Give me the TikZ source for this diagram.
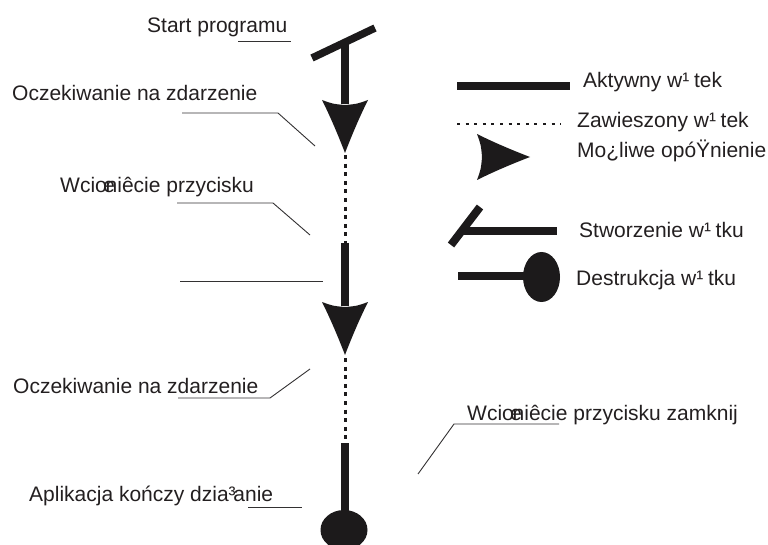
\documentclass[tikz,border=0pt]{standalone}
\usepackage{fontspec}
\setmainfont{Liberation Sans}
\definecolor{ink}{RGB}{28,26,27}
\definecolor{txt}{RGB}{35,31,32}
% glyphs set in the width of the letter they stand in for
\newcommand\glA{\makebox[0.556em][l]{¹}}
\newcommand\glL{\makebox[0.222em][l]{³}}
\newcommand\glS{\makebox[0.5em][l]{œ}}
\tikzset{
  delayhead/.pic={
    \fill[ink] (-23,0) .. controls (-12,4) .. (0,5) .. controls (12,4) .. (23,0)
      .. controls (14.5,17) and (6.5,36) .. (0,53)
      .. controls (-6.5,36) and (-14.5,17) .. (-23,0) -- cycle;
  }
}
\begin{document}
\begin{tikzpicture}[x=1pt,y=-1pt,
  lbl/.style={anchor=base west,inner sep=0pt,text=txt,font=\fontsize{21}{25}\selectfont},
  active/.style={draw=ink,line width=8.5pt},
  suspended/.style={draw=ink,line width=3pt,dash pattern=on 4pt off 4.6pt},
  leader/.style={draw=ink!90,line width=0.9pt},
  endblob/.style={fill=ink}]
\useasboundingbox (0,0) rectangle (768,545);

% ---- thread lifeline ----
\coordinate (barA) at (312,58);
\coordinate (barB) at (375,28);
\coordinate (l0) at (345,42);
\coordinate (h1) at (345,100);
\coordinate (l1) at (345,104);
\coordinate (t1) at (345,155);
\coordinate (l2) at (345,243);
\coordinate (h2) at (345,302);
\coordinate (l3) at (345,306);
\coordinate (t2) at (345,358);
\coordinate (l4) at (345,443);
\coordinate (l5) at (345,515);
\coordinate (blob) at (344,530);

\draw[active,line width=7.5pt] (barA) -- (barB);
\draw[active] (l0) -- (l1);
\pic at (h1) {delayhead};
\draw[suspended] (t1) -- (l2);
\draw[active] (l2) -- (l3);
\pic at (h2) {delayhead};
\draw[suspended] (t2) -- (l4);
\draw[active] (l4) -- (l5);
\fill[endblob] (blob) ellipse [x radius=23.5, y radius=20];

% ---- labels and leaders ----
\node[lbl] (start) at (147,33) {Start programu};
\coordinate (sA) at (238,41); \coordinate (sB) at (291,41);
\draw[leader] (sA) -- (sB);

\node[lbl] (wait1) at (12,101) {Oczekiwanie na zdarzenie};
\coordinate (w1A) at (182,113); \coordinate (w1B) at (278,113); \coordinate (w1C) at (315,146);
\draw[leader] (w1A) -- (w1B) -- (w1C);

\node[lbl] (press) at (60,193) {Wci\glS ni\^{e}cie przycisku};
\coordinate (pA) at (177,203); \coordinate (pB) at (273,203); \coordinate (pC) at (310,235);
\draw[leader] (pA) -- (pB) -- (pC);

\coordinate (eA) at (180,281); \coordinate (eB) at (323,281);
\draw[leader] (eA) -- (eB);

\node[lbl] (wait2) at (13,393) {Oczekiwanie na zdarzenie};
\coordinate (w2A) at (178,398); \coordinate (w2B) at (270,398); \coordinate (w2C) at (310,369);
\draw[leader] (w2A) -- (w2B) -- (w2C);

\node[lbl] (quit) at (29,501) {Aplikacja kończy dzia\glL anie};
\coordinate (qA) at (248,507); \coordinate (qB) at (302,507);
\draw[leader] (qA) -- (qB);

\node[lbl] (close) at (467,420) {Wci\glS ni\^{e}cie przycisku zamknij};
\coordinate (cA) at (559,424); \coordinate (cB) at (454,424); \coordinate (cC) at (418,474);
\draw[leader] (cA) -- (cB) -- (cC);

% ---- legend ----
\coordinate (k1A) at (457,86); \coordinate (k1B) at (570,86);
\draw[active,line width=8pt] (k1A) -- (k1B);
\node[lbl] (k1) at (583,88) {Aktywny w\glA tek};

\coordinate (k2A) at (457,124); \coordinate (k2B) at (561,124);
\draw[draw=ink,line width=2.3pt,dash pattern=on 3pt off 5.6pt] (k2A) -- (k2B);
\node[lbl] (k2) at (577,128) {Zawieszony w\glA tek};

\coordinate (k3) at (477,157);
\pic[rotate=90] at (k3) {delayhead};
\node[lbl] (k3t) at (577,158) {Mo¿liwe opóŸnienie};

\coordinate (k4A) at (451,245); \coordinate (k4B) at (480,207);
\coordinate (k4C) at (462,231); \coordinate (k4D) at (557,231);
\draw[active,line width=8pt] (k4A) -- (k4B);
\draw[active,line width=8pt] (k4C) -- (k4D);
\node[lbl] (k4) at (579,238) {Stworzenie w\glA tku};

\coordinate (k5A) at (458,276); \coordinate (k5B) at (530,276);
\coordinate (k5C) at (541.5,277);
\draw[active,line width=8pt] (k5A) -- (k5B);
\fill[endblob] (k5C) ellipse [x radius=18.5, y radius=25];
\node[lbl] (k5) at (576,285) {Destrukcja w\glA tku};
\end{tikzpicture}
\end{document}
